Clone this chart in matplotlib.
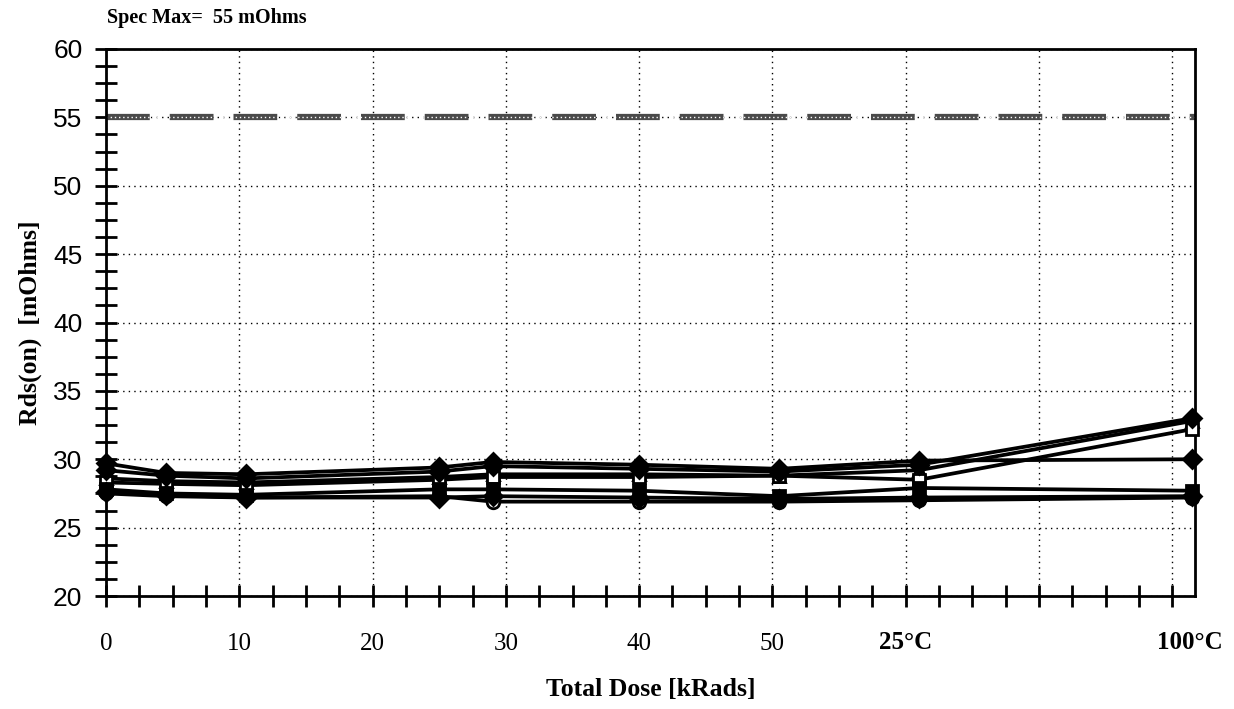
import matplotlib.pyplot as plt
from matplotlib.ticker import MultipleLocator, FixedLocator

plt.rcParams['font.family'] = ['Liberation Serif', 'DejaVu Serif']

# dose steps (kRads), then the 25°C and 100°C anneal points
dose = [0, 4.5, 10.5, 25, 29, 40, 50.5, 61, 81.5]

rds_a = [29.7, 29.0, 28.9, 29.4, 29.8, 29.6, 29.3, 29.9, 30.0]
rds_b = [28.6, 28.4, 28.3, 28.7, 28.9, 28.9, 28.8, 29.2, 32.8]
rds_c = [28.3, 28.2, 28.1, 28.5, 28.7, 28.7, 28.8, 28.5, 32.2]
rds_d = [29.2, 28.8, 28.6, 29.1, 29.5, 29.3, 29.1, 29.6, 33.0]
rds_e = [27.8, 27.5, 27.4, 27.8, 27.8, 27.7, 27.3, 27.9, 27.7]
rds_f = [27.5, 27.3, 27.2, 27.3, 26.9, 26.9, 26.9, 27.0, 27.2]
rds_g = [27.6, 27.4, 27.2, 27.2, 27.3, 27.2, 27.1, 27.2, 27.3]

spec_max = 55

xtick_pos = [0, 10, 20, 30, 40, 50, 60, 70, 80]
xtick_lab = ['0', '10', '20', '30', '40', '50', '', '', '']
temp_pos = [60, 81.3]
temp_lab = ['25°C', '100°C']

fig = plt.figure(figsize=(12.34, 7.09), dpi=100)
ax = fig.add_axes([106 / 1234, 1 - 596 / 709, 1089 / 1234, 547 / 709])

ax.set_xlim(0, 81.7)
ax.set_ylim(20, 60)

# spec limit line
ax.axhline(spec_max, color='#4a4a4a', lw=4.5, ls=(0, (7, 3.2)), zorder=2)
ax.axhline(spec_max, color='white', lw=1, ls=(0, (1, 2)), zorder=2.1)

series = [
    (rds_a, 'D', 'black'),
    (rds_b, '^', 'white'),
    (rds_c, 's', 'white'),
    (rds_d, 'D', 'black'),
    (rds_e, 's', 'black'),
    (rds_f, 'o', 'white'),
    (rds_g, 'D', 'black'),
]
for vals, mk, fc in series:
    ax.plot(dose, vals, color='black', lw=2.7, marker=mk, ms=9,
            mfc=fc, mec='black', mew=2, clip_on=False, zorder=3)

ax.xaxis.set_major_locator(FixedLocator(xtick_pos))
ax.set_xticklabels(xtick_lab)
ax.xaxis.set_minor_locator(MultipleLocator(2.5))
ax.yaxis.set_major_locator(MultipleLocator(5))
ax.yaxis.set_minor_locator(MultipleLocator(1.25))

ax.tick_params(which='both', direction='inout', length=16, width=2,
               color='black', top=False, right=False)
ax.tick_params(axis='y', labelsize=19, pad=9)
ax.tick_params(axis='x', labelsize=18, pad=19)
for lab in ax.get_yticklabels():
    lab.set_family(['Liberation Sans', 'DejaVu Sans'])

for xp, txt in zip(temp_pos, temp_lab):
    ax.annotate(txt, xy=(xp, 0), xycoords=('data', 'axes fraction'),
                xytext=(0, -25), textcoords='offset points',
                ha='center', va='top', fontsize=18, fontweight='bold')

ax.grid(True, which='major', color='black', ls=(0, (1, 3)), lw=1)
for s in ax.spines.values():
    s.set_linewidth(2)

ax.set_xlabel('Total Dose [kRads]', fontsize=18.5, fontweight='bold',
              labelpad=16)
ax.set_ylabel('Rds(on)  [mOhms]', fontsize=18.5, fontweight='bold',
              labelpad=8)

fig.text(107 / 1234, 1 - 18 / 709, 'Spec Max=  55 mOhms', fontsize=14.5,
         fontweight='bold', ha='left', va='center')

fig.savefig('out.png', dpi=100)
